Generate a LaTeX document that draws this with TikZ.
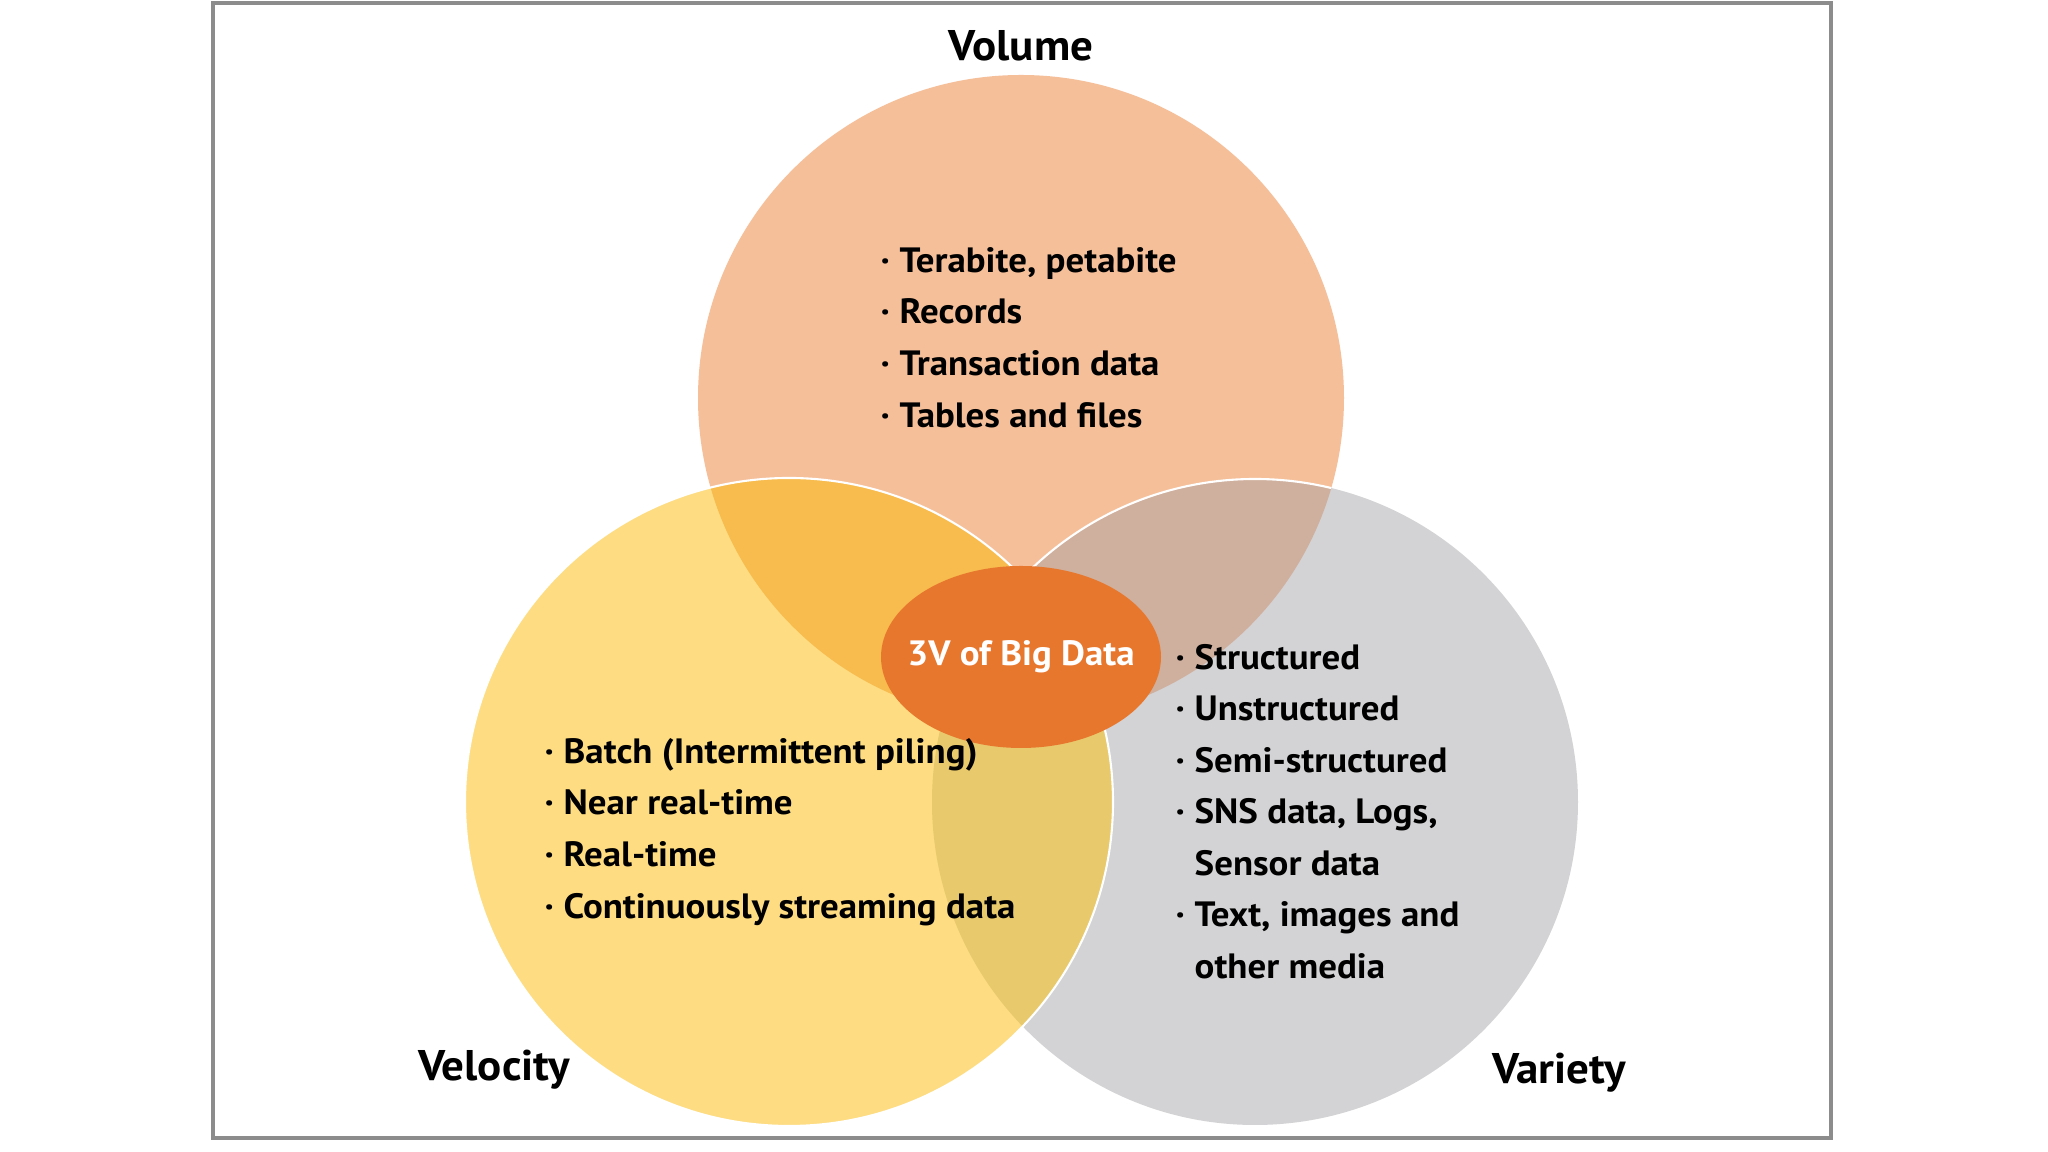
\documentclass[tikz,border=0pt]{standalone}
\usepackage{fontspec}
\setmainfont{PT Sans}[FakeStretch=1.05]
\usepackage{tikz}

\definecolor{volfill}{HTML}{F5BF9A}
\definecolor{velfill}{HTML}{FDDC82}
\definecolor{varfill}{HTML}{D3D2D4}
\definecolor{volvel}{HTML}{F8BB4D}
\definecolor{volvar}{HTML}{CFAF9D}
\definecolor{velvar}{HTML}{E8C96C}
\definecolor{corefill}{HTML}{E8772E}
\definecolor{framegray}{HTML}{8C8C8C}

\newcommand{\itm}{\makebox[0.19cm][l]{\textperiodcentered}}
\newcommand{\gap}{\hspace*{0.19cm}}

\begin{document}
\begin{tikzpicture}[scale=1.0,
  vtitle/.style={font=\fontsize{12.2pt}{14pt}\selectfont\bfseries, inner sep=0pt},
  vlist/.style={font=\fontsize{10pt}{14.68pt}\selectfont\bfseries, align=left, inner sep=0pt, anchor=west},
  rim/.style={white, line width=0.6pt}]
 \useasboundingbox (0,0) rectangle (20.48,11.52);
 \fill[white] (0,0) rectangle (20.48,11.52);
 \draw[framegray, line width=1pt] (2.13,0.14) rectangle (18.31,11.49);

 \coordinate (vol) at (10.21,7.54);
 \coordinate (vel) at (7.89,3.50);
 \coordinate (var) at (12.55,3.50);

 % the three circles
 \fill[volfill] (vol) circle (3.23);
 \fill[varfill] (var) circle (3.23);
 \fill[velfill] (vel) circle (3.24);
 \begin{scope}
  \clip (vol) circle (3.23);
  \fill[volvel] (vel) circle (3.24);
  \fill[volvar] (var) circle (3.23);
 \end{scope}
 \begin{scope}
  \clip (vel) circle (3.24);
  \fill[velvar] (var) circle (3.23);
 \end{scope}
 \draw[rim] (vel) circle (3.24);
 \begin{scope}
  \clip (vol) circle (3.23);
  \draw[rim] (var) circle (3.23);
 \end{scope}

 % centre
 \fill[corefill] (10.21,4.95) ellipse (1.40 and 0.91);
 \node[vtitle, white, font=\fontsize{10pt}{12pt}\selectfont\bfseries] (core) at (10.21,4.95) {3V of Big Data};

 \node[vtitle] (lblvol) at (10.21,11.06) {Volume};
 \node[vtitle] (lblvel) at (4.94,0.82) {Velocity};
 \node[vtitle] (lblvar) at (15.59,0.79) {Variety};

 \node[vlist] (volitems) at (8.80,8.145) {\itm Terabite, petabite\\ \itm Records\\ \itm Transaction data\\ \itm Tables and files};
 \node[vlist] (velitems) at (5.44,3.20) {\itm Batch (Intermittent piling)\\ \itm Near real-time\\ \itm Real-time\\ \itm Continuously streaming data};
 \node[vlist] (varitems) at (11.75,3.405) {\itm Structured\\ \itm Unstructured\\ \itm Semi-structured\\ \itm SNS data, Logs,\\ \gap Sensor data\\ \itm Text, images and\\ \gap other media};
\end{tikzpicture}
\end{document}
